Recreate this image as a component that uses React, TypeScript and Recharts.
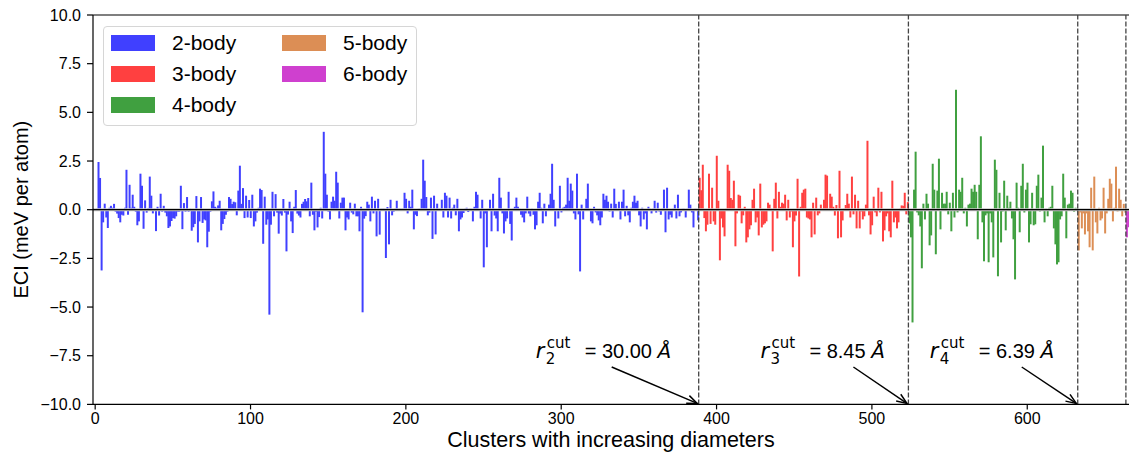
import React from 'react';
import { BarChart, Bar, Cell, XAxis, YAxis, ReferenceLine } from 'recharts';

// ECI per cluster, grouped by cluster order
const body2 = [
  0, 0.05, 2.45, 1.63, -3.12, -0.65, 0.31, -0.4, -0.94, 0.1,
  0.2, 0.1, 0.3, -0.1, -0.2, -0.43, -0.65, -0.26, -0.3, 0.1,
  2.05, -0.26, 1.28, 0.1, 0.77, 0.15, -0.1, -0.8, -0.6, 1.85,
  1.23, -0.98, 0.48, -0.15, 0.09, 1.7, 0.72, -0.19, 0.05, -1.1,
  0.15, -0.3, 0.82, -0.1, 0.2, -0.15, -0.34, -0.94, -0.86, -0.58,
  -0.43, -0.46, -0.34, -0.1, -0.1, 1.23, -1.0, 0.34, -0.1, 0.65,
  -0.1, 0.05, -1.08, -0.9, -0.73, 0.7, -1.68, -0.6, 0.65, -0.68,
  -0.5, -0.55, -1.93, -1.13, -0.1, 0.43, 0.94, 0.15, 0.1, 0.22,
  0.46, -1.06, -0.73, -0.48, -0.26, -0.1, 0.65, 0.56, 0.29, 0.41,
  0.38, -0.29, 0.98, 2.26, 0.3, 1.11, -0.43, 0.72, -0.4, 0.5,
  -0.43, 0.77, -0.86, -0.6, -0.15, 0.1, 1.08, 1.01, -1.75, 0.67,
  -0.77, -0.5, -5.39, -0.77, 0.92, -0.34, 0.8, -0.15, -1.23, -0.2,
  -0.3, 0.55, -0.15, -2.14, -0.25, 0.41, -0.6, -1.2, 0.15, 1.01,
  -0.2, -0.3, -0.4, 0.3, 0.41, 0.55, 0.43, 0.6, -0.34, 1.39,
  -0.26, -1.06, -0.1, -0.91, -0.38, 0.1, -0.45, 4.0, 1.85, 0.77,
  -0.1, -0.5, 0.41, 0.67, 0.46, 1.95, 1.39, -0.45, 0.36, 0.62,
  0.62, -1.06, -0.4, -0.5, 0.36, -0.15, -0.24, 0.31, -0.34, -0.34,
  -1.11, 0.15, -5.27, -0.46, -0.33, 0.41, 0.26, -0.6, 0.67, -0.19,
  0.46, -1.37, 0.56, -1.28, 0.05, 0.05, 0.05, -2.48, 0.14, -1.78,
  0.51, -0.29, -0.1, 0.05, 0.46, 0.05, 0.05, 0.05, 0.05, 0.87,
  0.56, -0.19, 0.46, 0.15, 1.03, -1.01, -0.26, -0.33, 0.05, 0.05,
  0.56, 2.57, 1.49, 0.65, -0.29, -0.15, 0.62, -1.5, 0.72, -1.27,
  0.31, 0.05, 0.05, 0.51, -0.4, 0.87, 0.72, -0.4, 0.62, -0.45,
  0.1, 0.26, -0.29, 0.56, -1.11, -0.5, -0.4, -0.17, 0.05, 0.1,
  -0.12, 0.05, 0.05, -0.6, 0.15, 0.92, 0.77, -0.05, -0.45, 0.51,
  -2.96, -0.19, -1.93, 0.05, 0.51, -1.11, 0.82, -0.3, -0.45, -1.11,
  1.64, 0.62, -0.19, -1.22, -0.6, -0.45, 0.92, -0.73, -1.58, 0.05,
  0.15, 0.62, 0.15, 0.05, -0.26, -0.4, -0.65, -0.19, 0.67, -0.2,
  -0.34, 0.05, -0.26, -1.01, -0.8, 0.41, 0.87, 0.1, -0.7, 0.31,
  -0.34, 0.05, 0.26, 0.82, 2.36, 0.51, -0.86, 0.05, -0.45, 1.23,
  -0.14, 0.1, 0.15, 0.26, 1.64, 0.46, 1.34, 0.98, -0.19, -0.5,
  1.85, -0.24, -3.17, 0.26, -0.5, 0.05, 0.56, 1.34, 0.05, -0.6,
  -0.7, 0.15, -0.14, -0.29, -0.55, -0.8, -0.4, 0.82, 0.51, 0.72,
  0.41, -0.09, 0.31, -0.4, 1.08, 0.3, 0.05, 0.41, -0.5, 0.41,
  1.03, -0.34, 0.2, -0.29, -0.65, 0.1, 0.41, 0.72, 0.36, 0.46,
  -0.29, -0.86, 0.1, -0.5, -0.19, -1.01, 0.15, 0.05, -0.19, 0.05,
  0.46, -0.15, 0.36, -0.09, -0.26, 0.05, 1.03, -1.16, 1.13, -0.5,
  -0.26, -0.4, 0.05, 0.26, -0.45, 0.77, -0.34, -0.14, 0.05, 0.05,
  -0.4, 0.05, 1.03, 0.26, -0.14, -0.91, 0.05, 0.05, -0.55,
];

const body3 = [
  1.64, 1.0, 2.31, -0.43, -1.11, -0.77, 1.85, -0.73, 1.13, -0.6,
  -0.77, 2.77, 0.46, -2.6, -0.45, -0.91, -1.37, 0.05, 2.31, 2.0,
  0.6, 0.51, 1.49, -1.88, -0.19, 0.77, 0.72, -0.7, -0.29, 0.15,
  -1.68, -1.42, -1.01, -0.8, 0.51, 1.08, -0.65, -0.4, -1.32, 1.34,
  -0.91, -0.77, -0.7, -0.6, 0.36, 0.26, 0.05, -2.14, 0.56, 1.39,
  -0.45, 0.92, 0.15, 0.36, 0.31, 0.77, -0.55, 0.51, -0.4, -0.09,
  -1.93, -0.6, -0.3, 1.59, -3.43, 0.15, 0.87, 1.03, 1.08, -0.4,
  -0.45, -0.5, -1.42, 0.36, -1.27, 0.62, -0.29, -0.19, 0.26, 0.05,
  0.51, 1.8, 1.75, 0.05, 0.82, 0.67, 0.15, -0.3, 0.24, -1.47,
  2.0, -1.42, -0.55, 0.05, 0.24, 0.82, 0.31, -0.4, 1.7, -0.24,
  0.77, -0.96, 0.46, -0.96, -0.09, -0.5, -0.34, 0.26, 3.54, -0.29,
  -1.27, -0.8, 0.67, -0.14, -0.34, 1.13, -0.14, 0.92, -1.63, -1.06,
  -0.34, -0.19, -1.11, -1.42, 1.49, -0.65, -0.4, -0.96, -0.65, 0.05,
  0.22, 0.2, 0.87, -0.24, 0.39,
];

const body4 = [
  -0.7, -1.42, -5.79, 1.03, 2.98, -0.14, -0.29, -0.86, -3.01, 0.31,
  -0.5, 0.82, 0.31, -1.83, -1.32, 2.36, 1.03, -2.29, 0.98, 2.62,
  -1.01, 0.87, 0.31, 0.31, 0.92, -0.24, 0.36, -1.11, 0.87, -0.4,
  6.16, -0.14, 1.03, 0.92, 1.64, -0.19, 0.1, -0.86, 0.26, 0.31,
  1.08, 0.92, 1.28, 0.92, -1.52, 1.28, 3.77, -0.65, -2.65, -0.29,
  -0.19, -2.7, -0.19, -0.65, -2.45, 2.57, 2.05, -3.42, 0.87, -1.68,
  -0.09, 1.49, -1.06, 0.72, 0.1, 0.41, -0.45, -1.52, -3.58, 1.39,
  0.1, -1.16, 1.23, 2.36, -0.14, 1.03, 1.39, -1.68, -0.75, 0.87,
  -0.8, -0.75, 1.23, 1.8, -0.09, 0.62, 3.29, -0.65, 0.05, -0.34,
  0.1, 0.15, 1.23, -0.96, -1.78, -2.81, -2.7, -0.5, -0.34, 1.85,
  0.62, -1.47, 0.26, 0.31, 0.98, 0.87, -0.1, 0.1, 0.05,
];

const body5 = [
  -2.09, -0.14, -0.96, -0.19, -1.27, -0.19, -1.11, -1.93, 1.13, -2.09,
  1.7, -0.65, -1.22, 0.1, -0.55, -0.45, 1.13, -1.22, -0.19, 0.56,
  1.59, 1.34, -0.6, 0.1, 2.21, -0.09, 1.08, 0.51, -0.34, 0.3,
  -0.15,
];

const body6 = [-1.42, -0.9];

const orders = [
  { name: '2-body', color: '#4040ff', values: body2 },
  { name: '3-body', color: '#ff4040', values: body3 },
  { name: '4-body', color: '#40a040', values: body4 },
  { name: '5-body', color: '#dc8e55', values: body5 },
  { name: '6-body', color: '#cf40cf', values: body6 },
];

const yTicks = [-10, -7.5, -5, -2.5, 0, 2.5, 5, 7.5, 10];

// cutoff radii written next to the order boundaries
const cutoffs = [
  { sub: '2', value: '30.00' },
  { sub: '3', value: '8.45' },
  { sub: '4', value: '6.39' },
];

const rows: { c: number; eci: number; order: number }[] = [];
const starts: number[] = [];
orders.forEach((o, k) => {
  starts.push(rows.length);
  o.values.forEach((v) => rows.push({ c: rows.length, eci: v, order: k }));
});
const boundaries = starts.slice(1);

// layout
const W = 1129;
const H = 458;
const PLOT_LEFT = 93;
const PLOT_TOP = 15;
const PLOT_BOTTOM = 404.4;
const PAD_LEFT = 1.4;
const band = (W - PLOT_LEFT - PAD_LEFT) / rows.length;
const xAt = (i: number) => PLOT_LEFT + PAD_LEFT + i * band;

const annoLayout = [
  { textDx: -163, tailDx: -87 },
  { textDx: -148, tailDx: -55 },
  { textDx: -148, tailDx: -56 },
];

const fmtY = (v: number) => (v < 0 ? '\u2212' : '') + Math.abs(v).toFixed(1);

const Arrow = ({ x1, y1, x2, y2 }: { x1: number; y1: number; x2: number; y2: number }) => {
  const ang = Math.atan2(y2 - y1, x2 - x1);
  const L = 11;
  const a = 0.38;
  const p1 = `${x2 - L * Math.cos(ang - a)},${y2 - L * Math.sin(ang - a)}`;
  const p2 = `${x2 - L * Math.cos(ang + a)},${y2 - L * Math.sin(ang + a)}`;
  return (
    <g stroke="#000" strokeWidth={1.5} fill="none">
      <line x1={x1} y1={y1} x2={x2} y2={y2} />
      <polyline points={`${p1} ${x2},${y2} ${p2}`} />
    </g>
  );
};

const Legend = () => (
  <div
    style={{
      position: 'absolute', left: 103, top: 26, width: 314, height: 100,
      border: '1px solid #d6d6d6', borderRadius: 4, background: 'rgba(255,255,255,0.8)',
      boxSizing: 'border-box', fontFamily: 'Liberation Sans, Arial, sans-serif', fontSize: 21,
    }}
  >
    {orders.map((o, i) => {
      const col = Math.floor(i / 3);
      const row = i % 3;
      const left = 7 + col * 171;
      const top = 8 + row * 31;
      return (
        <div key={o.name}>
          <div style={{ position: 'absolute', left, top, width: 44, height: 16, background: o.color }} />
          <div style={{ position: 'absolute', left: left + 61, top: top - 5, lineHeight: '26px', color: '#000' }}>{o.name}</div>
        </div>
      );
    })}
  </div>
);

export default function App() {
  return (
    <div style={{ position: 'absolute', left: 0, top: 0, width: W, height: H, background: '#fff' }}>
      <BarChart
        width={W}
        height={H}
        data={rows}
        margin={{ top: PLOT_TOP, right: 0, bottom: 0, left: 0 }}
        barCategoryGap={0}
        barGap={0}
        style={{ fontFamily: 'Liberation Sans, Arial, sans-serif' }}
      >
        <XAxis
          dataKey="c"
          type="category"
          interval={99}
          padding={{ left: PAD_LEFT, right: 0 }}
          height={H - PLOT_BOTTOM}
          tickSize={5}
          tickMargin={3}
          tick={{ fill: '#000', fontSize: 16 }}
          tickLine={{ stroke: '#000', strokeWidth: 1.2 }}
          axisLine={{ stroke: '#000', strokeWidth: 1.2 }}
          label={{ value: 'Clusters with increasing diameters', position: 'insideBottom', offset: 11, fill: '#000', fontSize: 21.5 }}
        />
        <YAxis
          type="number"
          domain={[-10, 10]}
          ticks={yTicks}
          width={PLOT_LEFT}
          tickSize={6}
          tickMargin={6}
          tickFormatter={fmtY}
          tick={{ fill: '#000', fontSize: 16 }}
          tickLine={{ stroke: '#000', strokeWidth: 1.2 }}
          axisLine={{ stroke: '#000', strokeWidth: 1.2 }}
          label={{ value: 'ECI (meV per atom)', angle: -90, position: 'insideLeft', offset: 21, fill: '#000', fontSize: 20, style: { textAnchor: 'middle' } }}
        />
        <ReferenceLine y={0} stroke="#c8c8c8" strokeWidth={3} />
        <Bar dataKey="eci" isAnimationActive={false}>
          {rows.map((r) => (
            <Cell key={r.c} fill={orders[r.order].color} />
          ))}
        </Bar>
        <ReferenceLine y={0} stroke="#000" strokeWidth={1.3} />
        <ReferenceLine y={10} stroke="#000" strokeWidth={1.2} />
        {boundaries.map((b) => (
          <ReferenceLine key={b} x={b} position="start" stroke="#444" strokeWidth={1.3} strokeDasharray="5 2" />
        ))}
      </BarChart>

      <svg width={W} height={H} style={{ position: 'absolute', left: 0, top: 0, pointerEvents: 'none' }}>
        {cutoffs.map((c, i) => {
          const bx = xAt(boundaries[i]);
          const x0 = bx + annoLayout[i].textDx;
          const y0 = 358;
          return (
            <g key={c.sub}>
              <text x={x0} y={y0} fontFamily="DejaVu Sans" fontStyle="italic" fontSize={21}>r</text>
              <text x={x0 + 11} y={y0 - 10} fontFamily="DejaVu Sans" fontSize={15}>cut</text>
              <text x={x0 + 10} y={y0 + 6} fontFamily="DejaVu Sans" fontSize={15}>{c.sub}</text>
              <text x={x0 + 49} y={y0} fontFamily="Liberation Sans" fontSize={20}>
                {`= ${c.value} `}
                <tspan fontFamily="DejaVu Sans" fontStyle="italic">Å</tspan>
              </text>
              <Arrow x1={bx + annoLayout[i].tailDx} y1={367} x2={bx - 1.5} y2={PLOT_BOTTOM - 1} />
            </g>
          );
        })}
      </svg>
      <Legend />
    </div>
  );
}
